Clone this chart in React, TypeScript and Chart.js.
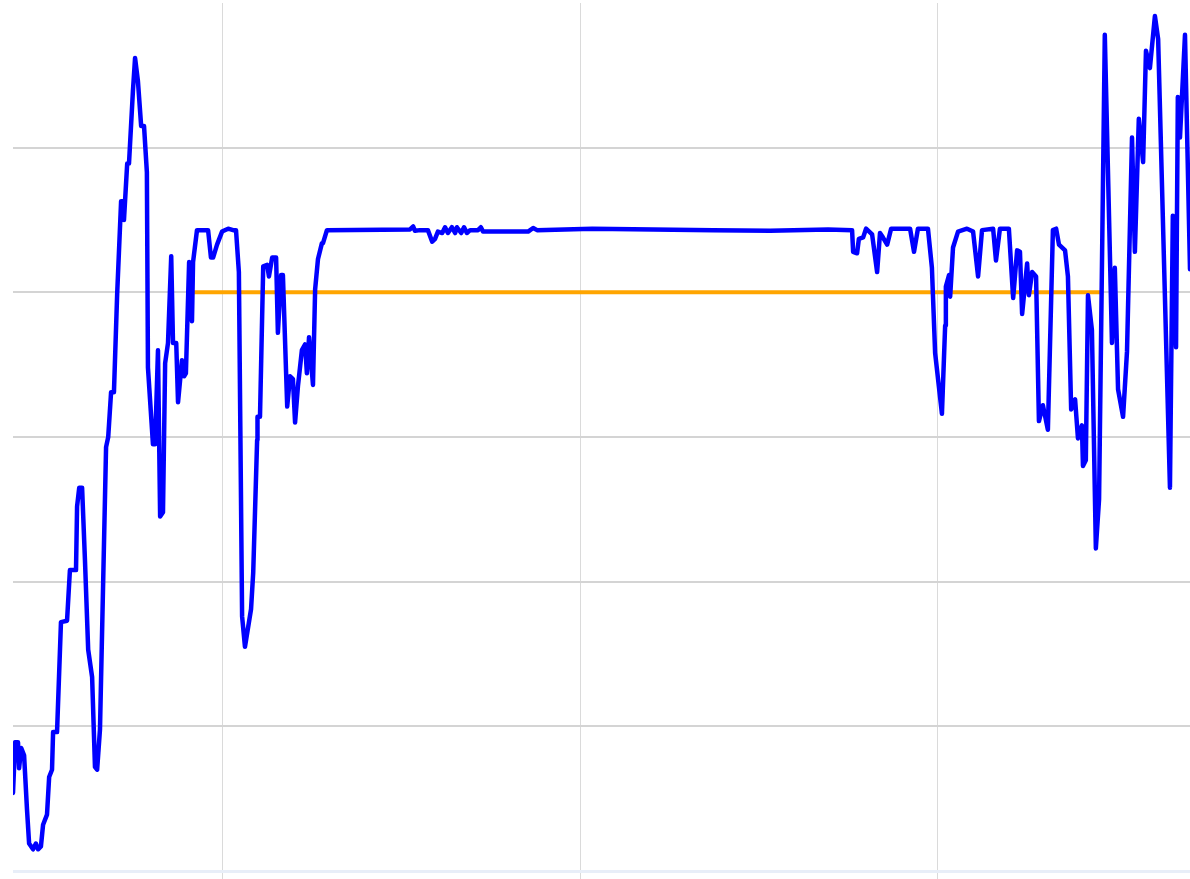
import React, { useEffect, useRef } from "react";
import { Chart, registerables } from "chart.js";

Chart.register(...registerables);

// Blue series: x positions and values
const seriesX: number[] = [
  41.6, 42.2, 43.0, 43.3, 43.9, 44.7, 45.5, 46.1, 47.2, 48.0, 48.6, 49.4, 50.0, 51.1, 51.7, 52.5, 52.8, 53.9, 55.0, 56.7,
  57.5, 59.2, 59.5, 60.1, 60.9, 61.7, 62.6, 63.7, 64.5, 65.1, 65.9, 67.6, 68.2, 69.0, 69.8, 70.7, 71.8, 72.3, 72.6, 73.5,
  74.0, 75.1, 75.7, 76.5, 77.4, 78.2, 79.0, 79.3, 80.7, 81.3, 82.1, 82.7, 83.5, 84.1, 84.9, 85.8, 86.3, 87.2, 87.7, 88.8,
  89.4, 89.9, 90.8, 91.6, 91.9, 93.0, 96.1, 96.9, 97.5, 98.6, 100.0, 101.7, 103.1, 103.9, 104.7, 105.6, 106.4, 108.1, 108.7, 109.8,
  109.9, 110.6, 111.5, 112.6, 113.1, 114.0, 115.1, 115.6, 116.5, 117.0, 118.2, 119.0, 119.8, 120.4, 121.2, 122.3, 123.2, 123.7, 124.3, 125.4,
  126.0, 126.8, 127.9, 128.2, 129.3, 152.5, 153.4, 153.9, 155.3, 157.5, 158.7, 159.5, 160.3, 161.5, 162.3, 163.1, 164.2, 165.1, 165.6, 166.8,
  167.6, 168.4, 169.3, 171.5, 172.3, 172.9, 185.5, 186.9, 188.0, 203.4, 220.4, 237.2, 253.1, 269.3, 276.0, 276.3, 277.4, 277.9, 279.1, 279.9,
  281.6, 283.0, 283.8, 284.6, 285.8, 286.9, 292.2, 293.3, 294.4, 297.2, 298.3, 299.2, 301.1, 302.0, 302.2, 303.1, 303.4, 304.2, 305.6, 308.1,
  309.8, 311.2, 312.3, 315.4, 316.2, 317.3, 319.8, 321.0, 322.1, 322.9, 323.5, 324.9, 325.4, 326.3, 327.4, 328.2, 329.3, 330.7, 332.1, 333.0,
  333.8, 335.5, 336.3, 337.2, 338.3, 339.1, 340.2, 340.5, 341.3, 341.9, 343.0, 344.1, 345.0, 346.6, 348.6, 349.4, 350.3, 351.7, 352.8, 354.2,
  355.0, 356.1, 357.3, 358.1, 359.2, 360.6, 361.5, 364.8, 365.6, 366.5, 367.0, 367.6, 369.0, 370.4,
];

const seriesY: number[] = [
  5.4, 8.9, 8.9, 7.1, 8.5, 8.0, 4.3, 1.9, 1.5, 1.9, 1.5, 1.7, 3.2, 3.9, 6.5, 7.0, 9.6, 9.6, 17.2, 17.3,
  20.8, 20.8, 25.2, 26.5, 26.5, 21.5, 15.3, 13.4, 7.2, 7.0, 9.8, 29.3, 30.0, 33.1, 33.1, 39.9, 46.3, 46.3, 45.0, 48.9,
  48.9, 53.9, 56.2, 54.6, 51.5, 51.5, 48.3, 34.8, 29.5, 29.5, 36.0, 24.5, 24.8, 35.1, 36.5, 42.5, 36.5, 36.5, 32.4, 35.3,
  34.2, 34.4, 42.1, 38.0, 42.1, 44.3, 44.3, 42.4, 42.4, 43.3, 44.2, 44.4, 44.3, 44.3, 41.4, 17.6, 15.5, 18.1, 20.6, 29.8,
  31.4, 31.4, 41.8, 41.9, 41.1, 42.4, 42.4, 37.2, 41.2, 41.2, 32.1, 34.2, 34.0, 31.0, 33.5, 36.0, 36.4, 34.4, 36.9, 33.6,
  40.2, 42.3, 43.4, 43.4, 44.3, 44.35, 44.55, 44.25, 44.3, 44.3, 43.5, 43.7, 44.2, 44.1, 44.5, 44.1, 44.5, 44.1, 44.5, 44.1,
  44.5, 44.1, 44.3, 44.3, 44.5, 44.2, 44.2, 44.45, 44.3, 44.4, 44.35, 44.3, 44.25, 44.35, 44.3, 42.8, 42.7, 43.7, 43.8, 44.4,
  44.0, 41.4, 44.1, 43.8, 43.3, 44.4, 44.4, 42.8, 44.4, 44.4, 41.7, 35.8, 31.6, 37.7, 40.4, 41.2, 39.7, 43.1, 44.2, 44.4,
  44.2, 41.1, 44.3, 44.4, 42.2, 44.4, 44.4, 39.6, 42.9, 42.8, 38.5, 42.0, 39.8, 41.4, 41.1, 31.1, 32.2, 30.5, 44.3, 44.4,
  43.3, 42.9, 41.1, 31.9, 32.6, 29.9, 30.8, 28.0, 28.4, 39.8, 37.4, 22.3, 25.7, 57.8, 36.5, 41.7, 33.3, 31.4, 35.9, 50.7,
  42.8, 52.0, 49.0, 56.7, 55.5, 59.1, 57.5, 26.5, 45.3, 36.2, 53.5, 50.7, 57.8, 41.6,
];

// Orange reference line
const targetStartX = 91.9;
const targetEndX = 345.8;
const targetValue = 40;

// Axis ranges and tick steps
const xRange: number[] = [41.6, 370.4];
const xStep = 100;
const yRange: number[] = [0, 60];
const yStep = 10;

export default function App() {
  const canvasRef = useRef<HTMLCanvasElement | null>(null);

  useEffect(() => {
    const canvas = canvasRef.current;
    if (!canvas) return;
    const points = seriesX.map((x, i) => ({ x, y: seriesY[i] }));
    const chart = new Chart(canvas, {
      type: "line",
      data: {
        datasets: [
          {
            data: points,
            borderColor: "#0000ff",
            borderWidth: 4.5,
            pointRadius: 0,
            tension: 0,
            fill: false,
            borderJoinStyle: "round",
            borderCapStyle: "round",
          },
          {
            data: [
              { x: targetStartX, y: targetValue },
              { x: targetEndX, y: targetValue },
            ],
            borderColor: "#ffa500",
            borderWidth: 4,
            pointRadius: 0,
            fill: false,
          },
        ],
      },
      options: {
        animation: false,
        responsive: false,
        devicePixelRatio: 1,
        layout: { padding: { left: 13, top: 3, right: 0, bottom: 0 } },
        plugins: { legend: { display: false }, tooltip: { enabled: false } },
        scales: {
          x: {
            type: "linear",
            min: xRange[0],
            max: xRange[1],
            border: { display: false },
            ticks: { display: false, stepSize: xStep, includeBounds: false },
            grid: {
              color: "rgb(218,218,218)",
              lineWidth: 1,
              drawTicks: true,
              tickLength: 8,
            },
          },
          y: {
            type: "linear",
            min: yRange[0],
            max: yRange[1],
            border: { display: false },
            ticks: { display: false, stepSize: yStep },
            grid: {
              drawTicks: false,
              lineWidth: (ctx: any) => (ctx.tick && ctx.tick.value === 0 ? 3 : 2),
              color: (ctx: any) => {
                const v = ctx.tick ? ctx.tick.value : null;
                if (v === 0) return "#e8eef8";
                if (v === yRange[1]) return "rgba(0,0,0,0)";
                return "rgb(212,212,212)";
              },
            },
          },
        },
      },
    });
    return () => chart.destroy();
  }, []);

  return (
    <div style={{ position: "absolute", left: 0, top: 0, width: 1190, height: 879, background: "#fff" }}>
      <canvas ref={canvasRef} width={1190} height={879} style={{ display: "block" }} />
    </div>
  );
}
